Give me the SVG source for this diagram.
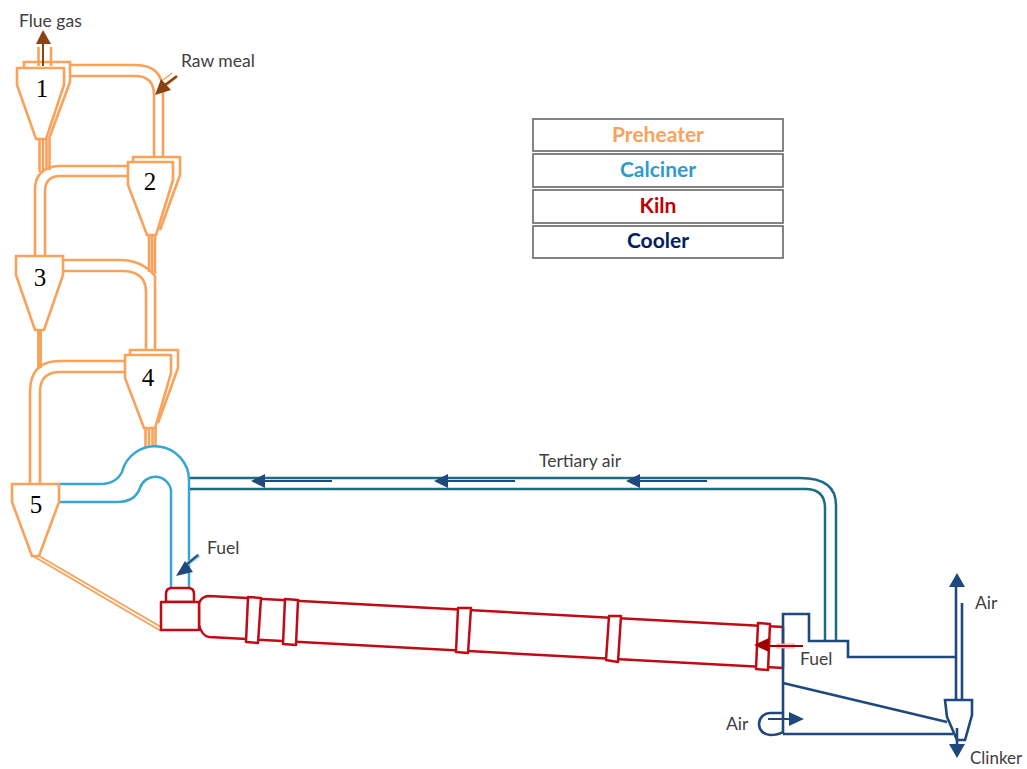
<svg xmlns="http://www.w3.org/2000/svg" width="1027" height="769" viewBox="0 0 1027 769">
<style>
.o{fill:none;stroke:#F9A25C;stroke-width:2.600}
.of{fill:#fff;stroke:#F9A25C;stroke-width:2.600;stroke-linejoin:miter}
.c{fill:none;stroke:#38A6D0;stroke-width:2.500}
.t{fill:none;stroke:#1F6A85;stroke-width:2.500}
.k{fill:#fff;stroke:#C00A14;stroke-width:2.500;stroke-linejoin:round}
.n{fill:none;stroke:#1F497D;stroke-width:2.600}
.nf{fill:#fff;stroke:#1F497D;stroke-width:2.600}
.h{fill:#1F497D}
.hl{stroke:#1F497D;stroke-width:2;fill:none}
.br{fill:#8A4210}
.brl{stroke:#8A4210;stroke-width:2;fill:none}
.lb{font-family:"Lato","Open Sans",sans-serif;font-size:17.500px;fill:#404040}
.num{font-family:"Liberation Serif",serif;font-size:25px;fill:#000;text-anchor:middle}
.leg{font-family:"Lato","Open Sans",sans-serif;font-size:21px;font-weight:700;text-anchor:middle}
.box{fill:#fff;stroke:#666;stroke-width:1.600}
</style>

<g id="connectors">
<path class="o" d="M70 65H135Q163 65 163 92V157"/>
<path class="o" d="M70 76H135Q154 76 154 95V157"/>
<path class="o" d="M39.500 139V172M43 139V172M46.500 139V170M49.500 136V170"/>
<path class="o" d="M128 166H58Q35 168 35 190V257"/>
<path class="o" d="M128 176H60Q45 176 45 192V257"/>
<path class="o" d="M149 235V272M152 235V272M155 235V274"/>
<path class="o" d="M63 260H120Q142 260 155 276V351"/>
<path class="o" d="M63 271H122Q146 271 146 292V351"/>
<path d="M39.500 330V368" fill="none" stroke="#F9A25C" stroke-width="5"/>
<path class="o" d="M125 361H60Q30 361 30 392V484"/>
<path class="o" d="M125 372H60Q40 372 40 392V484"/>
<path class="o" d="M145.500 428V447M149 428V447M152.500 425V447M155.500 425V447"/>
<path class="o" d="M33 556L161 631M39 556L161 627" style="stroke-width:2"/>
<path class="o" d="M38.500 47V66M51 47V66"/>
<path d="M172 73L163 80M176 78L167 85" fill="none" stroke="#F9A25C" stroke-width="1.500"/>
<path class="c" d="M59 484H100Q116 484 122 472A34 34 0 0 1 189 480V589"/>
<path class="c" d="M58 502H117Q135 502 140 488A16 16 0 0 1 171 490V589"/>
<path class="t" d="M190 478H800Q836 478 836 505V641"/>
<path class="t" d="M190 489H805Q825 489 825 508V641"/>
<path class="hl" d="M264 481H332M447 481H515M639 481H707"/>
<path class="h" d="M251 481L265 474V488ZM434 481L448 474V488ZM626 481L640 474V488Z"/>
</g>

<g id="cyclone-1">
<path class="o" d="M24 67V62H70V82L50 136"/>
<path class="of" d="M17 68H64V85L46 139H36L17 85Z"/>
<text class="num" x="42" y="97">1</text>
</g>
<g id="cyclone-2">
<path class="o" d="M133 162V157H180V175L160 230"/>
<path class="of" d="M128 162H173V180L156 235H147L128 185Z"/>
<text class="num" x="150" y="190">2</text>
</g>
<g id="cyclone-3">
<path class="of" d="M16 256H63V275L44 330H35L16 275Z"/>
<text class="num" x="40" y="286">3</text>
</g>
<g id="cyclone-4">
<path class="o" d="M130 355V350H178V368L158 423"/>
<path class="of" d="M125 355H171V373L155 428H144L125 378Z"/>
<text class="num" x="148" y="386">4</text>
</g>
<g id="cyclone-5">
<path class="of" d="M12 484H59V502L39 556H32L12 502Z"/>
<text class="num" x="36" y="513">5</text>
</g>

<g id="kiln">
<path class="k" d="M199 603Q202 596 209 596L783 627V668L209 637Q202 636 199 625Z"/>
<path class="k" d="M248 597L261 598L258 643L246 642Z"/>
<path class="k" d="M285 599L298 600L296 645L283 644Z"/>
<path class="k" d="M458 608L471 608L468 653L456 652Z"/>
<path class="k" d="M609 616L621 616L618 662L606 660Z"/>
<path class="k" d="M758 623L770 624L768 670L756 669Z"/>
<path class="k" d="M166 602V594Q166 588 172 588H188Q194 588 194 594V602Z"/>
<path class="k" d="M161 602H199V630H161Z"/>
</g>

<g id="cooler">
<path class="n" d="M783 734V614H809V641H848V657H956"/>
<path class="n" d="M783 734H953M783 683L947 722"/>
<path class="n" d="M956 587V700M962 603V700"/>
<path class="nf" d="M945 700H972V715L965 740H957L947 717Z"/>
<path class="n" d="M957 728V745"/>
<path class="h" d="M957 573L965 587H949ZM949 744H965L957 758Z"/>
<path class="n" d="M783 713H770A11 11 0 0 0 770 735Q778 735 783 732"/>
<path class="hl" d="M768 719H790"/>
<path class="h" d="M789 712L804 719L789 726Z"/>
</g>

<g id="arrows">
<path class="brl" d="M43 44V66"/>
<path class="br" d="M43 30L51 44H36Z"/>
<path class="brl" d="M177 76L165 85" style="stroke-width:2.500"/>
<path class="br" d="M155 95L161 79L171 90Z"/>
<path d="M199 555L186 565" fill="none" stroke="#8FC0E0" stroke-width="4"/>
<path class="hl" d="M198 555L186 565"/>
<path class="h" d="M176 576L185 561L193 572Z"/>
<rect x="777" y="644" width="17" height="4" fill="#fbd5d5" stroke="#f0a8a8" stroke-width="1"/>
<path d="M769 646H803" fill="none" stroke="#A00000" stroke-width="1.800"/>
<path d="M754 645L769 638V652Z" fill="#A00000"/>
</g>

<g id="labels">
<text class="lb" x="19" y="27">Flue gas</text>
<text class="lb" x="181" y="67">Raw meal</text>
<text class="lb" x="539" y="467">Tertiary air</text>
<text class="lb" x="207" y="554">Fuel</text>
<text class="lb" x="800" y="665">Fuel</text>
<text class="lb" x="975" y="609">Air</text>
<text class="lb" x="726" y="730">Air</text>
<text class="lb" x="970" y="764" style="font-size:17px">Clinker</text>
</g>

<g id="legend-preheater"><rect class="box" x="533" y="119" width="250" height="32"/><text class="leg" x="658" y="142" fill="#F9A25C">Preheater</text></g>
<g id="legend-calciner"><rect class="box" x="533" y="154" width="250" height="33"/><text class="leg" x="658" y="177" fill="#2E9CCA">Calciner</text></g>
<g id="legend-kiln"><rect class="box" x="533" y="190" width="250" height="33"/><text class="leg" x="658" y="213" fill="#C00000">Kiln</text></g>
<g id="legend-cooler"><rect class="box" x="533" y="226" width="250" height="32"/><text class="leg" x="658" y="248" fill="#002060">Cooler</text></g>
</svg>
